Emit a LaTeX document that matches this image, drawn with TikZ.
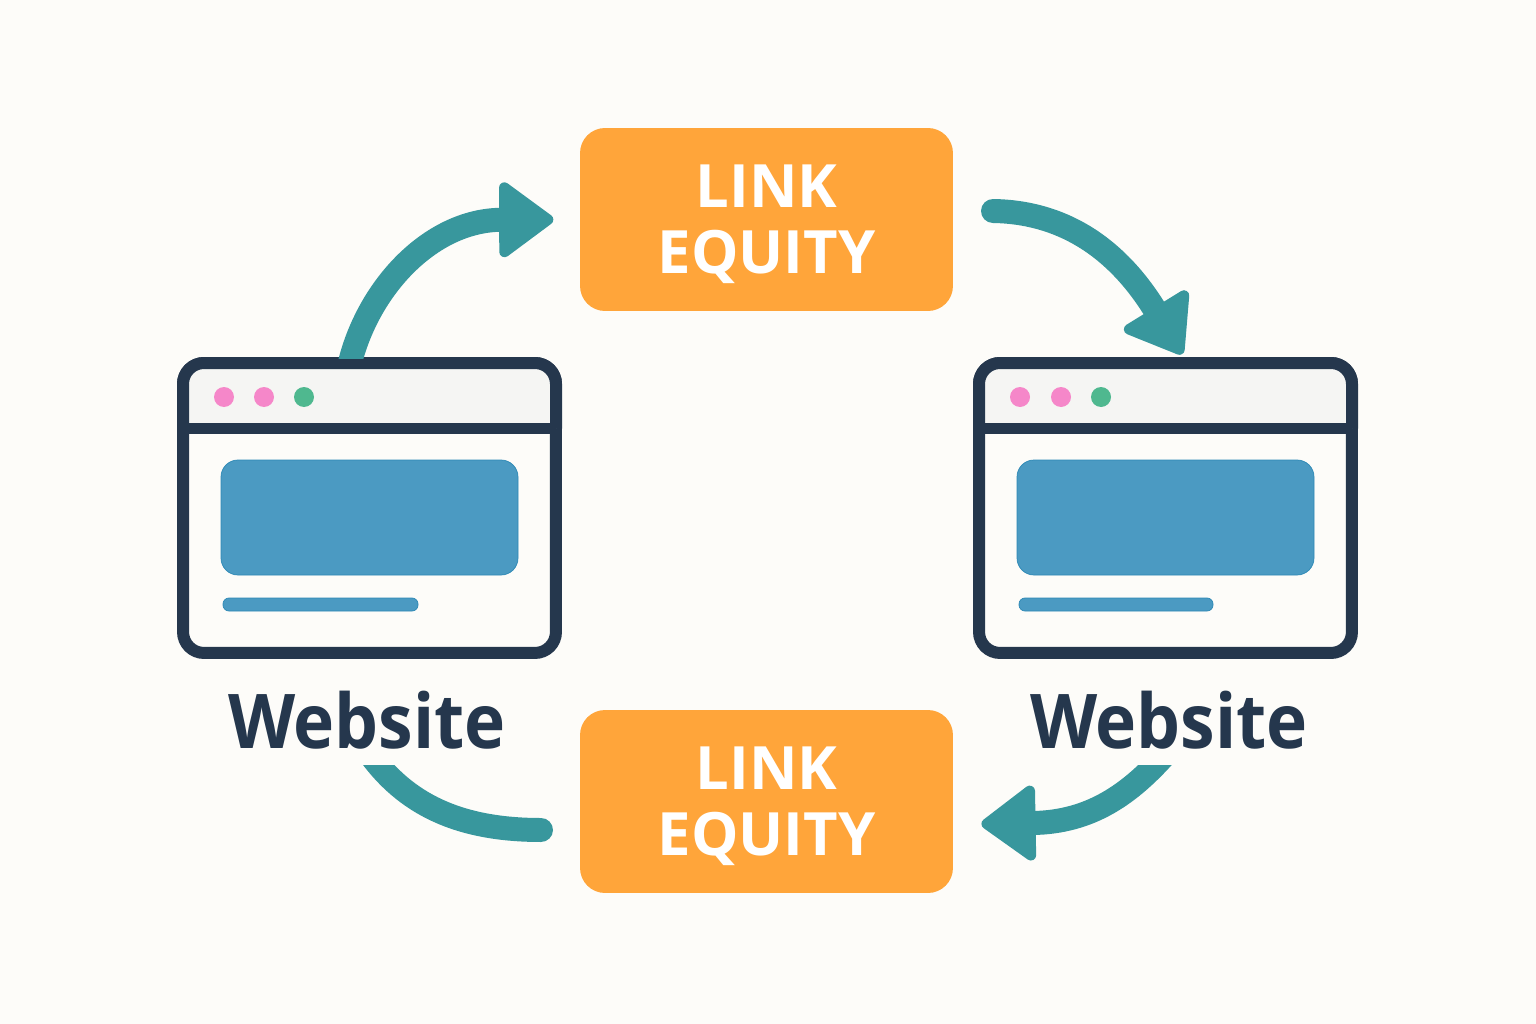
\documentclass[tikz,border=0pt]{standalone}
\usepackage{fontspec}
\setmainfont{Open Sans}
\newfontfamily\labelfont[FakeStretch=0.92]{Open Sans}
\usetikzlibrary{arrows.meta}
\definecolor{paper}{HTML}{FDFCF9}
\definecolor{barfill}{HTML}{F5F5F3}
\definecolor{navy}{HTML}{25374D}
\definecolor{equity}{HTML}{FFA53A}
\definecolor{flow}{HTML}{38979D}
\definecolor{panel}{HTML}{4B9AC2}
\definecolor{panelline}{HTML}{2C88B5}
\definecolor{dotpink}{HTML}{F587C9}
\definecolor{dotgreen}{HTML}{4FB88F}
\tikzset{
  equitybox/.style={fill=equity,rounded corners=0.5cm,minimum width=7.46cm,minimum height=3.66cm,
    text=white,align=center,text depth=0pt,font=\fontsize{34}{37.4}\selectfont\bfseries},
  webbox/.style={draw=navy,fill=paper,line width=0.24cm,rounded corners=0.42cm,minimum width=7.46cm,minimum height=5.8cm},
  webbar/.style={draw=navy,fill=barfill,line width=0.24cm,rounded corners=0.42cm},
  webrule/.style={draw=navy,line width=0.22cm},
  panelbox/.style={draw=panelline,fill=panel,line width=0.4pt,rounded corners=0.34cm},
  weblabel/.style={text=navy,inner sep=0pt,anchor=south,font=\labelfont\fontsize{43}{50}\selectfont\bfseries},
  flowline/.style={draw=flow,line width=0.48cm},
  flowhead/.style={-{Triangle[length=33pt,width=47pt,line width=6pt,round]}}
}
\begin{document}
\begin{tikzpicture}[x=0.02cm,y=-0.02cm]
\useasboundingbox (0,0) rectangle (1536,1024);
\fill[paper] (0,0) rectangle (1536,1024);

%%%% Left window:
\node[webbox] (webleft) at (369.5,508) {};
\draw[webbar] (183,428.5) -- (183,363) -- (556,363) -- (556,428.5);
\draw[webrule] (183,428.5) -- (556,428.5);
\fill[dotpink] (224,397) circle (10);
\fill[dotpink] (264,397) circle (10);
\fill[dotgreen] (304,397) circle (10);
\draw[panelbox] (221,460) rectangle (518,575);
\draw[panelbox,rounded corners=0.12cm] (223,598) rectangle (418,611);
\node[weblabel] (labelleft) at (367,750) {Website};

%%%% Right window:
\node[webbox] (webright) at (1165.5,508) {};
\draw[webbar] (979,428.5) -- (979,363) -- (1352,363) -- (1352,428.5);
\draw[webrule] (979,428.5) -- (1352,428.5);
\fill[dotpink] (1020,397) circle (10);
\fill[dotpink] (1061,397) circle (10);
\fill[dotgreen] (1101,397) circle (10);
\draw[panelbox] (1017,460) rectangle (1314,575);
\draw[panelbox,rounded corners=0.12cm] (1019,598) rectangle (1213,611);
\node[weblabel] (labelright) at (1169,750) {Website};

%%%% Orange boxes:
\node[equitybox] (linktop) at (766.5,219.5) {LINK\\EQUITY};
\node[equitybox] (linkbot) at (766.5,801.5) {LINK\\EQUITY};

%%%% Free ends of the arrows:
\coordinate (topout) at (993,211);
\coordinate (leftin) at (541,830);

%%%% Arrows:
\begin{scope}
\clip (0,0) rectangle (1536,358);
\draw[flowline,flowhead,shorten <=-8pt,shorten >=15pt] (webleft.97) .. controls (365,290) and (430,220) .. (linktop.west);
\end{scope}
\draw[flowline,flowhead,line cap=round,shorten >=2pt] (topout) .. controls (1060,212) and (1115,245) .. (webright.83);
\begin{scope}
\clip (0,765) rectangle (1536,1024);
\draw[flowline,flowhead,shorten >=16pt] (labelright.south) .. controls (1130,795) and (1090,822) .. (linkbot.-7.3);
\draw[flowline,line cap=round] (labelleft.south) .. controls (405,805) and (460,830) .. (leftin);
\end{scope}
\end{tikzpicture}
\end{document}
